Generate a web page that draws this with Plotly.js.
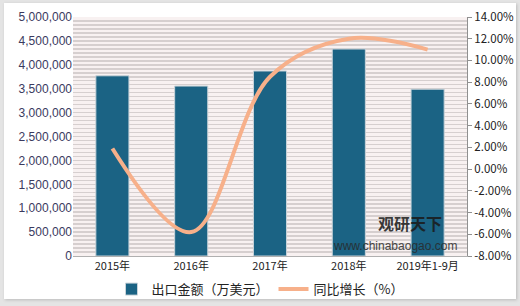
<!DOCTYPE html>
<html><head><meta charset="utf-8">
<script src="https://cdn.plot.ly/plotly-3.0.1.min.js"></script>
<style>
html,body{margin:0;padding:0;background:#e4e4e4;}
#wrap{position:relative;width:520px;height:306px;overflow:hidden;}
#panel{position:absolute;left:4px;top:3px;width:512px;height:296px;background:#fff;box-shadow:1px 1px 3px #bbb;}
#chart{position:absolute;left:0;top:0;width:520px;height:306px;}
</style></head>
<body>
<div id="wrap"><div id="panel"></div><div id="chart"></div></div>
<script>
const categories = ["2015年","2016年","2017年","2018年","2019年1-9月"];
const exportValues = [3770000, 3555000, 3870000, 4330000, 3490000];
const growthRates = [1.9, -5.8, 8.5, 12.0, 11.0];
const leftTickVals = [0,500000,1000000,1500000,2000000,2500000,3000000,3500000,4000000,4500000,5000000];
const rightTickVals = [-8,-6,-4,-2,0,2,4,6,8,10,12,14];
const seriesNames = ["出口金额（万美元）","同比增长（%）"];
const stripeCount = 60;

const cjk = '"Noto Sans CJK SC", "Noto Sans", sans-serif';

const traces = [
  {type:'scatter', x:[categories[0]], y:[0], yaxis:'y3', mode:'markers',
   marker:{opacity:0}, showlegend:false, hoverinfo:'skip'},
  {type:'bar', x:categories, y:exportValues, name:seriesNames[0],
   marker:{color:'#1b6384', line:{color:'#c9d3d9', width:1}},
   yaxis:'y', hoverinfo:'x+y'},
  {type:'scatter', mode:'lines', x:categories, y:growthRates, name:seriesNames[1],
   line:{color:'#f7b08a', width:4, shape:'spline', smoothing:1.0},
   yaxis:'y2'}
];

const layout = {
  width:520, height:306,
  margin:{l:73, r:53, t:17, b:50, autoexpand:false},
  paper_bgcolor:'rgba(0,0,0,0)',
  plot_bgcolor:'#f8f1f1',
  bargap:0.58,
  showlegend:true,
  legend:{orientation:'h', x:0.5, xanchor:'center', xref:'container', yref:'container', y:0.055, yanchor:'middle',
    font:{family:cjk, size:13, color:'#222'}, itemwidth:30, traceorder:'normal', bgcolor:'rgba(0,0,0,0)'},
  xaxis:{type:'category', showgrid:false, showline:true, linecolor:'#b0b0b0', linewidth:1,
    ticks:'', tickfont:{family:cjk, size:11, color:'#222'}, zeroline:false, automargin:false},
  yaxis:{range:[0,5000000], tickvals:leftTickVals, tickformat:',d', showgrid:false, zeroline:false,
    showline:false, ticks:'', tickfont:{family:'"Liberation Sans", Arial, sans-serif', size:12, color:'#3a3a5e'},
    automargin:false},
  yaxis2:{overlaying:'y', side:'right', range:[-8,14], tickvals:rightTickVals,
    ticktext:rightTickVals.map(v=>v.toFixed(2)+'%'), showgrid:false, zeroline:false,
    showline:true, linecolor:'#909090', linewidth:1, ticks:'outside', ticklen:4, tickcolor:'#909090',
    tickfont:{family:cjk, size:11.5, color:'#222'}, automargin:false},
  yaxis3:{overlaying:'y', range:[0, stripeCount], dtick:1, showgrid:true, gridcolor:'#d6cfcf', gridwidth:1.5,
    showticklabels:false, zeroline:false, showline:false, ticks:''},
  annotations:[
    {xref:'paper', yref:'paper', x:0.855, y:0.14, text:'<b>观研天下</b>', showarrow:false,
     font:{family:cjk, size:16, color:'#1a1a1a'}, xanchor:'center', yanchor:'middle', opacity:0.85},
    {xref:'paper', yref:'paper', x:0.816, y:0.04, text:'www.chinabaogao.com', showarrow:false,
     font:{family:'"Liberation Sans", Arial, sans-serif', size:12, color:'#2a2a2a'}, xanchor:'center', yanchor:'middle', opacity:0.85}
  ]
};

Plotly.newPlot('chart', traces, layout, {displayModeBar:false, staticPlot:true});
</script>
</body></html>
